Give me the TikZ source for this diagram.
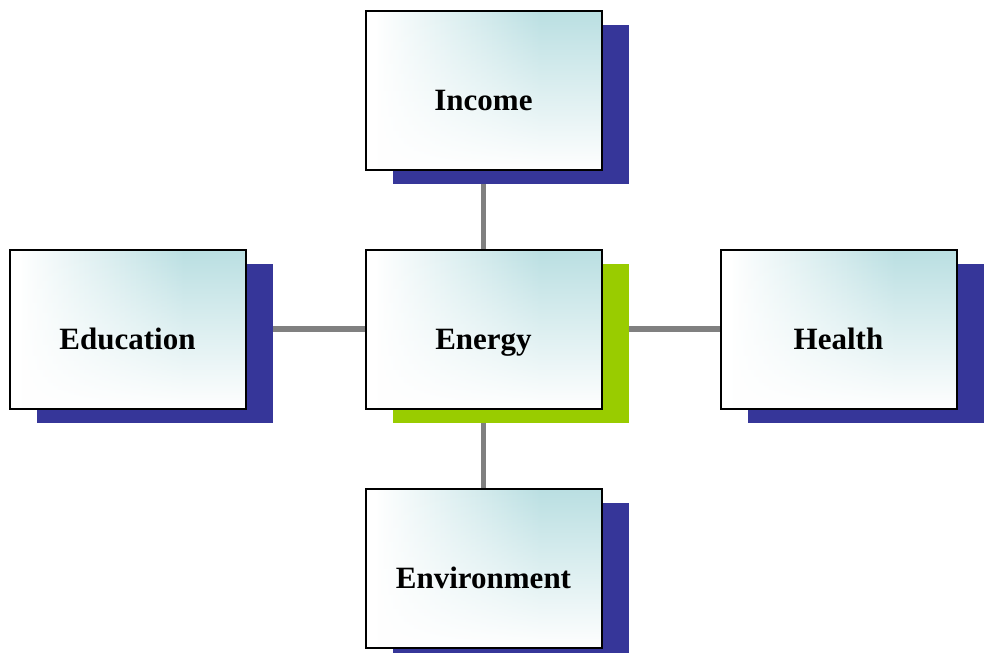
\documentclass[tikz,border=0pt]{standalone}
\usepackage{fontspec}
\setmainfont{Liberation Serif}
\usetikzlibrary{shadows,backgrounds,fadings}
\definecolor{shblue}{RGB}{54,54,153}
\definecolor{shgreen}{RGB}{153,204,0}
\definecolor{tealA}{RGB}{186,223,226}
\definecolor{lineg}{RGB}{128,128,128}
\pgfdeclarehorizontalshading{boxshade}{100bp}{color(0bp)=(white); color(27bp)=(white); color(62bp)=(tealA); color(100bp)=(tealA)}
\tikzfading[name=fadeup, top color=transparent!100, middle color=transparent!55, bottom color=transparent!0]
\tikzset{
  box/.style={draw=black, line width=2pt, minimum width=236pt, minimum height=159pt,
    inner sep=0pt, shading=boxshade,
    path picture={\fill[white, path fading=fadeup] (path picture bounding box.south west) rectangle (path picture bounding box.north east);},
    drop shadow={shadow xshift=27pt, shadow yshift=-14pt, fill=#1, opacity=1}},
  box/.default=shblue,
  lbl/.style={anchor=base, font=\fontsize{31}{36}\selectfont\bfseries},
  conn/.style={draw=lineg, line width=5.5pt}
}
\begin{document}
\begin{tikzpicture}[x=1pt,y=-1pt]
\useasboundingbox (0,0) rectangle (985,653);
\node[box] (inc) at (483.5,90) {};
\node[box] (edu) at (127.5,329) {};
\node[box=shgreen] (ene) at (483.5,329) {};
\node[box] (hea) at (838.5,329) {};
\node[box] (env) at (483.5,568) {};
\node[lbl] (tinc) at ([yshift=-20pt]inc.center) {Income};
\node[lbl] (tedu) at ([yshift=-20pt]edu.center) {Education};
\node[lbl] (tene) at ([yshift=-20pt]ene.center) {Energy};
\node[lbl] (thea) at ([yshift=-20pt]hea.center) {Health};
\node[lbl] (tenv) at ([yshift=-20pt]env.center) {Environment};
\begin{scope}[on background layer]
\draw[conn] (inc.center) -- (ene.center);
\draw[conn] (ene.center) -- (env.center);
\draw[conn] (edu.center) -- (ene.center);
\draw[conn] (ene.center) -- (hea.center);
\end{scope}
\end{tikzpicture}
\end{document}
